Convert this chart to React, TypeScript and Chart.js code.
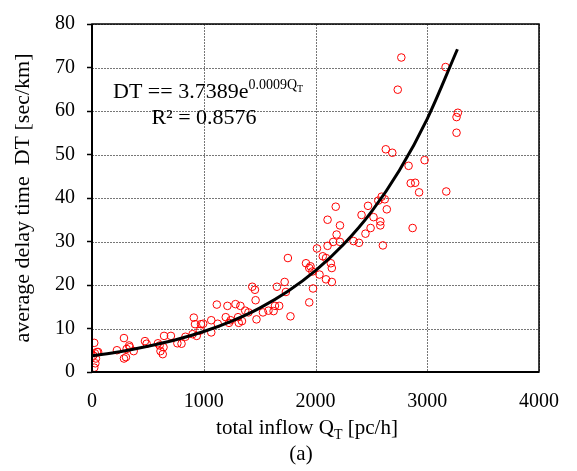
import React, { useEffect, useRef } from "react";
import { Chart, registerables } from "chart.js";

Chart.register(...registerables);

// Observed points: total inflow Q_T [pc/h] and average delay time DT [sec/km]
const inflowQ = [
  20, 25, 45, 55, 35, 30, 20, 12,
  223, 286, 286, 304, 310, 333, 338, 373, 474, 489, 590, 605, 613, 633, 640, 645, 706, 764, 801, 836, 900, 911, 922, 937, 975, 995, 966,
  1067, 1067, 1117, 1125, 1197, 1212, 1226, 1241, 1284, 1307, 1328, 1313, 1342, 1371, 1400, 1434, 1458, 1464, 1472, 1530, 1579, 1625, 1637, 1655, 1675, 1724, 1735, 1753, 1776,
  1915, 1944, 1955, 1972, 1978, 1944, 2036, 2065,
  2094, 2146, 2146, 2137, 2094, 2013, 2108, 2158, 2219, 2189, 2219, 2108, 2181, 2340, 2389, 2447, 2493, 2519, 2412, 2470, 2580, 2580, 2603, 2638, 2562, 2592, 2620,
  2629, 2687, 2976, 2833, 2852, 2892, 2927, 3170, 2869,
  2768, 3164, 2736, 3274, 3262, 3262,
];
const delayDT = [
  6.7, 4.3, 4.6, 4.6, 3.1, 2.0, 1.0, 3.8,
  5.0, 7.8, 3.1, 3.4, 5.3, 6.1, 5.7, 4.8, 7.1, 6.5, 6.6, 6.1, 4.8, 4.1, 5.7, 8.3, 8.3, 6.6, 6.5, 8.1, 8.7, 12.5, 11.0, 8.3, 11.0, 11.1, 9.5,
  11.9, 9.1, 15.5, 11.1, 12.6, 15.2, 11.3, 11.9, 15.6, 12.6, 15.2, 11.3, 11.7, 14.1, 13.7, 19.6, 18.9, 16.5, 12.1, 13.7, 14.1, 14.0, 15.2, 19.6, 15.2, 20.7, 18.4, 26.2, 12.8,
  25.0, 23.9, 24.3, 23.1, 19.2, 16.0, 22.4, 26.6,
  21.3, 20.7, 23.9, 25.0, 26.2, 28.4, 29.0, 29.9, 29.9, 31.6, 33.7, 35.0, 38.0, 30.1, 29.7, 31.8, 33.1, 35.6, 36.1, 38.2, 34.6, 33.7, 29.1, 37.4, 39.4, 40.3, 39.7,
  51.2, 50.4, 48.7, 47.4, 43.4, 43.5, 41.3, 41.5, 33.1,
  72.3, 70.1, 64.9, 59.6, 58.6, 55.0,
];

// Exponential trend line
const trendQ = [0, 250, 500, 750, 1000, 1250, 1500, 1750, 2000, 2250, 2500, 2750, 3000, 3270];
const trendDT = [3.74, 4.66, 5.9, 7.4, 9.3, 11.7, 14.7, 18.5, 23.3, 29.3, 36.8, 46.3, 58.2, 74.2];

const xTicks = [0, 1000, 2000, 3000, 4000];
const yTicks = [0, 10, 20, 30, 40, 50, 60, 70, 80];

const SERIF = '"Liberation Serif", "Times New Roman", Times, serif';

type Run = { text: string; size: number; rise: number };

function runsWidth(ctx: CanvasRenderingContext2D, runs: Run[]) {
  let w = 0;
  for (const r of runs) {
    ctx.font = `${r.size}px ${SERIF}`;
    w += ctx.measureText(r.text).width;
  }
  return w;
}

function drawRuns(ctx: CanvasRenderingContext2D, runs: Run[], x: number, y: number) {
  ctx.textAlign = "left";
  ctx.textBaseline = "alphabetic";
  for (const r of runs) {
    ctx.font = `${r.size}px ${SERIF}`;
    ctx.fillText(r.text, x, y - r.rise);
    x += ctx.measureText(r.text).width;
  }
}

const dashedGrid = {
  id: "dashedGrid",
  beforeDatasetsDraw(chart: any) {
    const { ctx, chartArea: a, scales } = chart;
    ctx.save();
    ctx.strokeStyle = "#777";
    ctx.lineWidth = 1;
    ctx.setLineDash([2, 1]);
    for (const v of xTicks) {
      const x = Math.round(scales.x.getPixelForValue(v)) + 0.5;
      ctx.beginPath();
      ctx.moveTo(x, a.top);
      ctx.lineTo(x, a.bottom);
      ctx.stroke();
    }
    for (const v of yTicks) {
      const y = Math.round(scales.y.getPixelForValue(v)) + 0.5;
      ctx.beginPath();
      ctx.moveTo(a.left, y);
      ctx.lineTo(a.right, y);
      ctx.stroke();
    }
    ctx.restore();
  },
};

const decor = {
  id: "decor",
  afterDraw(chart: any) {
    const { ctx, chartArea: a } = chart;
    ctx.save();
    ctx.strokeStyle = "#000";
    ctx.lineWidth = 1.5;
    ctx.strokeRect(a.left, a.top, a.right - a.left, a.bottom - a.top);
    ctx.lineWidth = 2;
    ctx.beginPath();
    ctx.moveTo(a.left, a.top);
    ctx.lineTo(a.left, a.bottom);
    ctx.lineTo(a.right, a.bottom);
    ctx.stroke();

    ctx.fillStyle = "#000";
    // x axis title
    const xRuns: Run[] = [
      { text: "total inflow Q", size: 21, rise: 0 },
      { text: "T", size: 14, rise: -5 },
      { text: " [pc/h]", size: 21, rise: 0 },
    ];
    const xw = runsWidth(ctx, xRuns);
    drawRuns(ctx, xRuns, 307 - xw / 2, 434);

    // (a)
    ctx.font = `21px ${SERIF}`;
    ctx.textAlign = "center";
    ctx.fillText("(a)", 301, 460);

    // y axis title
    ctx.save();
    ctx.translate(29, (a.top + a.bottom) / 2);
    ctx.rotate(-Math.PI / 2);
    ctx.font = `22px ${SERIF}`;
    ctx.textAlign = "center";
    ctx.textBaseline = "alphabetic";
    ctx.fillText("average delay time  DT [sec/km]", 0, 0);
    ctx.restore();

    // equation
    const eq: Run[] = [
      { text: "DT == 3.7389e", size: 22, rise: 0 },
      { text: "0.0009Q", size: 14, rise: 9 },
      { text: "T", size: 10, rise: 6 },
    ];
    drawRuns(ctx, eq, 113, 98);
    ctx.font = `22px ${SERIF}`;
    ctx.textAlign = "center";
    ctx.fillText("R\u00B2 = 0.8576", 204, 124);
    ctx.restore();
  },
};

export default function App() {
  const ref = useRef<HTMLCanvasElement>(null);
  useEffect(() => {
    if (!ref.current) return;
    const points = inflowQ.map((q, i) => ({ x: q, y: delayDT[i] }));
    const trend = trendQ.map((q, i) => ({ x: q, y: trendDT[i] }));
    const chart = new Chart(ref.current, {
      type: "scatter",
      data: {
        datasets: [
          {
            type: "line",
            data: trend,
            borderColor: "#000",
            borderWidth: 3,
            pointRadius: 0,
            fill: false,
            cubicInterpolationMode: "monotone",
          } as any,
          {
            data: points,
            pointRadius: 3.8,
            pointStyle: "circle",
            borderColor: "#ff0000",
            backgroundColor: "rgba(0,0,0,0)",
            borderWidth: 1,
          },
        ],
      },
      options: {
        animation: false,
        responsive: false,
        layout: { padding: { top: 17, right: 23, left: 0, bottom: 0 } },
        plugins: { legend: { display: false }, tooltip: { enabled: false } },
        scales: {
          x: {
            type: "linear",
            min: 0,
            max: 4000,
            afterBuildTicks: (s: any) => {
              s.ticks = xTicks.map((v) => ({ value: v }));
            },
            afterFit: (s: any) => {
              s.height = 99;
            },
            grid: { display: false, drawOnChartArea: false, drawTicks: false },
            border: { display: false },
            ticks: {
              color: "#000",
              font: { family: SERIF, size: 20 },
              padding: 18,
              maxRotation: 0,
              callback: (v: any) => String(v),
            },
          },
          y: {
            type: "linear",
            min: 0,
            max: 80,
            afterBuildTicks: (s: any) => {
              s.ticks = yTicks.map((v) => ({ value: v }));
            },
            afterFit: (s: any) => {
              s.width = 92;
            },
            grid: {
              display: true,
              drawOnChartArea: false,
              drawTicks: true,
              tickLength: 5,
              color: "#000",
              tickColor: "#000",
              tickWidth: 1.5,
            },
            border: { display: false },
            ticks: {
              color: "#000",
              font: { family: SERIF, size: 20 },
              padding: 12,
              callback: (v: any) => String(v),
            },
          },
        },
      },
      plugins: [dashedGrid, decor],
    });
    return () => chart.destroy();
  }, []);
  return (
    <div style={{ position: "fixed", left: 0, top: 0, width: 577, height: 471, background: "#fff" }}>
      <canvas ref={ref} width={577} height={471} style={{ display: "block" }} />
    </div>
  );
}
